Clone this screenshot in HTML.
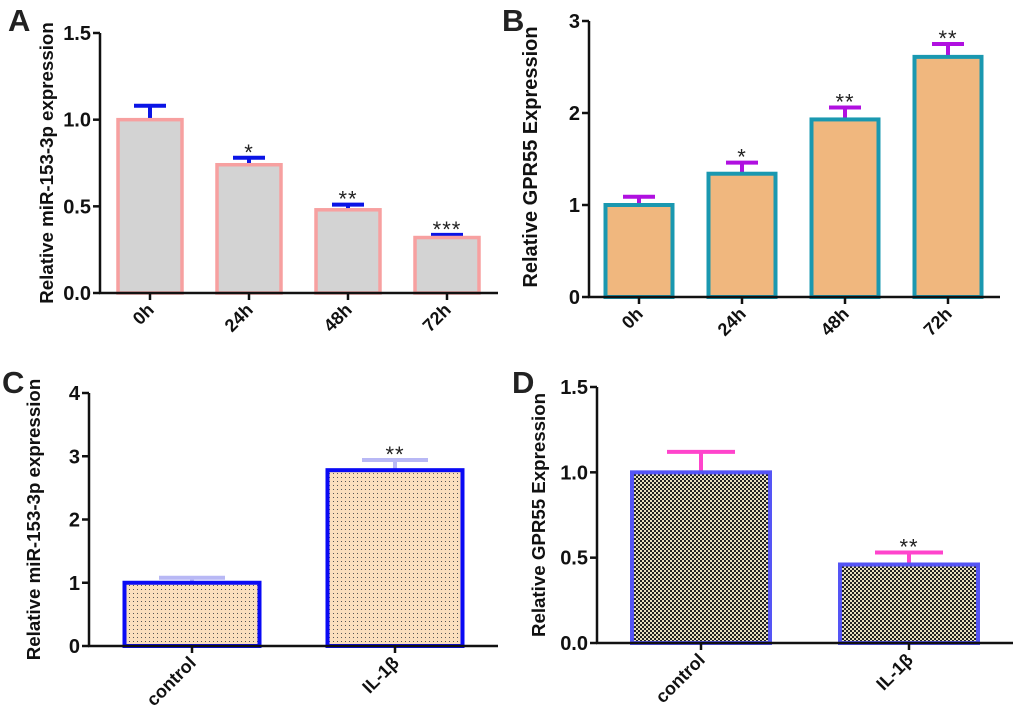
<!DOCTYPE html>
<html><head><meta charset="utf-8"><style>
body{margin:0;background:#fff;}
svg{display:block;font-family:"Liberation Sans",Arial,sans-serif;}
</style></head><body>
<svg id="fig" width="1020" height="718" viewBox="0 0 1020 718" xmlns="http://www.w3.org/2000/svg">
<defs>
<pattern id="dots" width="4" height="4" patternUnits="userSpaceOnUse"><rect width="4" height="4" fill="#fbdfbe"/><rect x="1" y="1" width="1" height="1" fill="#555"/></pattern>
<pattern id="checks" width="4" height="4" patternUnits="userSpaceOnUse"><rect width="4" height="4" fill="#e8e0c0"/><rect width="2" height="2" fill="#222"/><rect x="2" y="2" width="2" height="2" fill="#222"/></pattern>
</defs>
</svg>
<script>
const catsA=["0h","24h","48h","72h"];
const valsA=[1.0,0.74,0.48,0.32];
const errA=[0.08,0.04,0.03,0.015];
const starsA=["","*","**","***"];
const ticksA=["0.0","0.5","1.0","1.5"];
const catsB=["0h","24h","48h","72h"];
const valsB=[1.0,1.34,1.93,2.61];
const errB=[0.09,0.12,0.13,0.14];
const starsB=["","*","**","**"];
const ticksB=["0","1","2","3"];
const catsC=["control","IL-1β"];
const valsC=[1.0,2.78];
const errC=[0.08,0.16];
const starsC=["","**"];
const ticksC=["0","1","2","3","4"];
const catsD=["control","IL-1β"];
const valsD=[1.0,0.46];
const errD=[0.12,0.07];
const starsD=["","**"];
const ticksD=["0.0","0.5","1.0","1.5"];

const svg=document.getElementById('fig');
const NS='http://www.w3.org/2000/svg';
function mk(tag,at,parent){const e=document.createElementNS(NS,tag);for(const k in at)e.setAttribute(k,at[k]);(parent||svg).appendChild(e);return e;}

function panel(p){
  const g=mk('g',{});
  
  
  const ymax=p.max;
  const ys=v=>p.y0-(v/ymax)*(p.y0-p.ytop);
  const xs=i=>p.c0+i*p.step;
  const L=mk('text',{x:p.lx,y:p.ly,'font-size':31,'font-weight':'bold',fill:'#222'},g);L.textContent=p.id;
  
  
  p.vals.forEach((v,i)=>{
    const cx=xs(i);
    const e=mk('line',{x1:cx,x2:cx,y1:ys(v),y2:ys(v+p.err[i]),stroke:p.ec,'stroke-width':4},g);
    
    
    const cp=mk('line',{x1:cx-p.cap,x2:cx+p.cap,y1:ys(v+p.err[i]),y2:ys(v+p.err[i]),stroke:p.ec,'stroke-width':4},g);
    
    
    const r=mk('rect',{x:cx-p.bw/2,y:ys(v),width:p.bw,height:p.y0-ys(v),fill:p.fill,stroke:p.bc,'stroke-width':p.sw},g);
    
    
    if(p.stars[i]){const s=mk('text',{x:cx,y:ys(v+p.err[i])+2,'font-size':22,'text-anchor':'middle',fill:'#222','letter-spacing':'1'},g);s.textContent=p.stars[i];
      
      }
    const t=mk('line',{x1:cx,x2:cx,y1:p.y0,y2:p.y0+7,stroke:'#111','stroke-width':2.5},g);
    
    
    const lb=mk('text',{x:cx+5,y:p.y0+18,'font-size':18,'font-weight':'bold','text-anchor':'end',fill:'#111',transform:`rotate(-45 ${cx+5} ${p.y0+18})`},g);
    lb.textContent=p.cats[i];
    
    
  });
  const ya=mk('line',{x1:p.ax,x2:p.ax,y1:p.ytop,y2:p.y0,stroke:'#111','stroke-width':2.5},g);
  
  
  const xa=mk('line',{x1:p.ax-1,x2:p.xend,y1:p.y0,y2:p.y0,stroke:'#111','stroke-width':2.5},g);
  
  
  p.ticks.forEach((t,i)=>{
    const v=ymax*i/(p.ticks.length-1);
    const tl=mk('line',{x1:p.ax-7,x2:p.ax,y1:ys(v),y2:ys(v),stroke:'#111','stroke-width':2.5},g);
    
    
    const tx=mk('text',{x:p.ax-9,y:ys(v)+7,'font-size':20,'font-weight':'bold','text-anchor':'end',fill:'#111'},g);
    tx.textContent=t;
    
    
  });
  const cy=(p.ytop+p.y0)/2+p.tyo;
  const yt=mk('text',{x:p.tx,y:cy,'font-size':p.tfs,'font-weight':'bold','text-anchor':'middle',fill:'#111',transform:`rotate(-90 ${p.tx} ${cy})`},g);
  yt.textContent=p.title;
  
  
}
panel({id:'A',lx:8,ly:31,cats:catsA,vals:valsA,err:errA,stars:starsA,ticks:ticksA,max:1.5,ax:100,y0:293,ytop:33,xend:498,c0:150,step:99,bw:64,cap:16,fill:'#d3d3d3',bc:'#f7a0a0',sw:3.5,ec:'#0a14e6',tx:53,tyo:0,tfs:18.7,title:'Relative miR-153-3p expression'});
panel({id:'B',lx:502,ly:31,cats:catsB,vals:valsB,err:errB,stars:starsB,ticks:ticksB,max:3,ax:589,y0:297,ytop:21,xend:1000,c0:639,step:103,bw:67,cap:16,fill:'#f0b77e',bc:'#1a98b0',sw:4,ec:'#b010e0',tx:537,tyo:-2,tfs:20,title:'Relative GPR55 Expression'});
panel({id:'C',lx:2,ly:393,cats:catsC,vals:valsC,err:errC,stars:starsC,ticks:ticksC,max:4,ax:89,y0:646,ytop:393,xend:498,c0:192,step:203,bw:135,cap:33,fill:'url(#dots)',bc:'#0a0af5',sw:4,ec:'#b8b8f5',tx:40,tyo:0,tfs:18.7,title:'Relative miR-153-3p expression'});
panel({id:'D',lx:512,ly:393,cats:catsD,vals:valsD,err:errD,stars:starsD,ticks:ticksD,max:1.5,ax:597,y0:643,ytop:387,xend:1013,c0:701,step:208,bw:138,cap:34,fill:'url(#checks)',bc:'#5555f5',sw:4,ec:'#ff44cc',tx:545,tyo:0,tfs:18.7,title:'Relative GPR55 Expression'});
</script>
</body></html>
